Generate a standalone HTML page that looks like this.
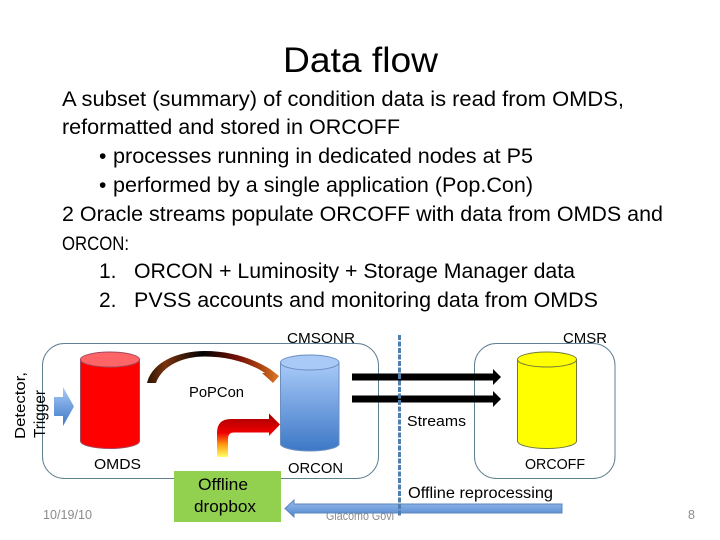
<!DOCTYPE html>
<html>
<head>
<meta charset="utf-8">
<style>
html,body{margin:0;padding:0;background:#fff;width:720px;height:540px;overflow:hidden}
svg{display:block}
text{font-family:"Liberation Sans",sans-serif;fill:#000}
</style>
</head>
<body>
<svg width="720" height="540" viewBox="0 0 720 540" xmlns="http://www.w3.org/2000/svg">
<defs>
<linearGradient id="bl" x1="0" y1="0" x2="0" y2="1"><stop offset="0" stop-color="#a9caf8"/><stop offset="1" stop-color="#3d78c6"/></linearGradient>
<linearGradient id="ar" x1="0" y1="0" x2="0" y2="1"><stop offset="0" stop-color="#9dbdec"/><stop offset="1" stop-color="#4f86d0"/></linearGradient>
<linearGradient id="cv" gradientUnits="userSpaceOnUse" x1="147" y1="0" x2="279" y2="0">
<stop offset="0" stop-color="#2c1200"/><stop offset=".14" stop-color="#7a3410"/><stop offset=".42" stop-color="#000"/><stop offset=".7" stop-color="#7c1208"/><stop offset=".86" stop-color="#a84410"/><stop offset="1" stop-color="#e07a28"/>
</linearGradient>
<linearGradient id="bt" gradientUnits="userSpaceOnUse" x1="0" y1="457" x2="0" y2="413">
<stop offset="0" stop-color="#ffff66"/><stop offset=".28" stop-color="#ff9a10"/><stop offset=".55" stop-color="#f00000"/><stop offset="1" stop-color="#9c0000"/>
</linearGradient>
</defs>

<text x="283" y="72" font-size="35" textLength="155" lengthAdjust="spacingAndGlyphs">Data flow</text>

<g font-size="21">
<text x="62" y="106" textLength="562" lengthAdjust="spacingAndGlyphs">A subset (summary) of condition data is read from OMDS,</text>
<text x="62" y="134" textLength="338" lengthAdjust="spacingAndGlyphs">reformatted and stored in ORCOFF</text>
<text x="99" y="163">•</text>
<text x="113" y="163" textLength="420" lengthAdjust="spacingAndGlyphs">processes running in dedicated nodes at P5</text>
<text x="99" y="192">•</text>
<text x="113" y="192" textLength="420" lengthAdjust="spacingAndGlyphs">performed by a single application (Pop.Con)</text>
<text x="62" y="221" textLength="601" lengthAdjust="spacingAndGlyphs">2 Oracle streams populate ORCOFF with data from OMDS and</text>
<text x="62" y="250" font-size="19.500" textLength="67" lengthAdjust="spacingAndGlyphs">ORCON:</text>
<text x="99" y="278">1.</text>
<text x="134" y="278" textLength="441" lengthAdjust="spacingAndGlyphs">ORCON + Luminosity + Storage Manager data</text>
<text x="99" y="307">2.</text>
<text x="134" y="307" textLength="464" lengthAdjust="spacingAndGlyphs">PVSS accounts and monitoring data from OMDS</text>
</g>

<!-- footer -->
<g font-size="12.5">
<text x="43" y="519" textLength="49" lengthAdjust="spacingAndGlyphs" style="fill:#8b8b8b">10/19/10</text>
<text x="326" y="520" textLength="68" lengthAdjust="spacingAndGlyphs" style="fill:#8b8b8b">Giacomo Govi</text>
<text x="688" y="519" style="fill:#8b8b8b">8</text>
</g>

<!-- containers -->
<rect x="42.5" y="343.5" width="336" height="135" rx="22" fill="none" stroke="#5f7f92" stroke-width="1"/>
<rect x="474.5" y="343.5" width="140.5" height="135" rx="22" fill="none" stroke="#5f7f92" stroke-width="1"/>

<!-- input arrow -->
<path d="M54,397 H63 V387 L74,406.500 L63,426 V416 H54 Z" fill="url(#bl)"/>

<!-- OMDS -->
<path d="M80.500,359.500 V441 A29.500,7.500 0 0 0 139.500,441 V359.500 Z" fill="#ff0000" stroke="#a5485c" stroke-width="1"/>
<ellipse cx="110" cy="359.500" rx="29.500" ry="7.500" fill="#ff6466" stroke="#a5485c" stroke-width="1"/>

<!-- ORCON -->
<path d="M280.500,362.500 V444.500 A29.500,7.500 0 0 0 339,444.500 V362.500 Z" fill="url(#bl)" stroke="#6a8fc0" stroke-width="1"/>
<ellipse cx="309.750" cy="362.500" rx="29.250" ry="7.500" fill="#a9caf6" stroke="#6a8fc0" stroke-width="1"/>

<!-- ORCOFF -->
<path d="M517.500,359.500 V441 A29.500,7.500 0 0 0 576.500,441 V359.500 Z" fill="#ffff00" stroke="#6f7a38" stroke-width="1"/>
<ellipse cx="547" cy="359.500" rx="29.500" ry="7.500" fill="#ffff00" stroke="#6f7a38" stroke-width="1"/>

<!-- curved arrow -->
<path d="M147,383 C152,362 178,351 205,351 C230,351 252,358 270,369 L279,376 L273,383 L262,373 L265,373 C250,363 228,356.500 205,356.500 C182,356.500 162,366 156,383 Z" fill="url(#cv)"/>

<!-- bent arrow -->
<path d="M217,457 V433 Q217,419 231,419 H269 V413.500 L280,424.500 L269,436 V432.500 H234 Q228,432.500 228,439 V457 Z" fill="url(#bt)"/>

<!-- streams arrows -->
<path d="M352,373.500 H493 V369 L501,377 L493,385 V380.500 H352 Z" fill="#000"/>
<path d="M352,395.500 H493 V391 L501,399 L493,407 V402.500 H352 Z" fill="#000"/>

<!-- green box -->
<rect x="174" y="471" width="107" height="51" fill="#92d050"/>

<!-- reprocessing arrow -->
<path d="M562,504 V513 H294 V517 L285,508.500 L294,500 V504 Z" fill="url(#ar)" stroke="#5a86bc" stroke-width="1"/>

<!-- dashed separator -->
<line x1="399.500" y1="335" x2="399.500" y2="517" stroke="#4f7fae" stroke-width="3" stroke-dasharray="5 1.500"/>

<!-- labels -->
<g font-size="15">
<text x="287" y="343" textLength="68" lengthAdjust="spacingAndGlyphs">CMSONR</text>
<text x="563" y="343" textLength="44" lengthAdjust="spacingAndGlyphs">CMSR</text>
<text x="189" y="397" textLength="55" lengthAdjust="spacingAndGlyphs">PoPCon</text>
<text x="407" y="426" textLength="59" lengthAdjust="spacingAndGlyphs">Streams</text>
<text x="94" y="469" textLength="47" lengthAdjust="spacingAndGlyphs">OMDS</text>
<text x="288" y="473" textLength="55" lengthAdjust="spacingAndGlyphs">ORCON</text>
<text x="525" y="469" textLength="60" lengthAdjust="spacingAndGlyphs">ORCOFF</text>
<text x="408" y="498" font-size="16" textLength="145" lengthAdjust="spacingAndGlyphs">Offline reprocessing</text>
<text x="198" y="490" font-size="16.500" textLength="50" lengthAdjust="spacingAndGlyphs">Offline</text>
<text x="194" y="512" font-size="16.500" textLength="62" lengthAdjust="spacingAndGlyphs">dropbox</text>
<text transform="translate(25,439) rotate(-90)" textLength="67" lengthAdjust="spacingAndGlyphs">Detector,</text>
<text transform="translate(45,438) rotate(-90)" font-size="16" textLength="48" lengthAdjust="spacingAndGlyphs">Trigger</text>
</g>
</svg>
</body>
</html>
